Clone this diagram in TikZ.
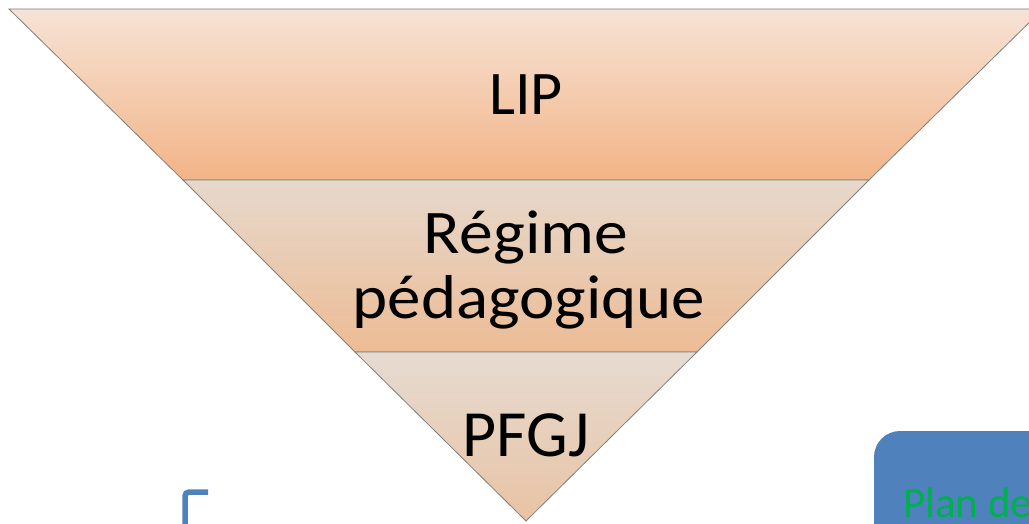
\documentclass[tikz,border=0pt]{standalone}
\usepackage{fontspec}
\setmainfont{Carlito}
\definecolor{bandA1}{HTML}{F6E3D6}
\definecolor{bandA2}{HTML}{F2B487}
\definecolor{bandB1}{HTML}{E6D8CC}
\definecolor{bandB2}{HTML}{EDBC95}
\definecolor{bandC1}{HTML}{E6DBD1}
\definecolor{bandC2}{HTML}{E8C3A4}
\definecolor{edgegray}{HTML}{7F7F7F}
\definecolor{boxblue}{HTML}{4F81BD}
\definecolor{txtgreen}{HTML}{00B050}
\tikzset{
  band/.style={draw=edgegray, line width=0.8pt, line join=miter},
  bandlabel/.style={font=\fontsize{62}{73}\selectfont, text=black, align=center, anchor=base, inner sep=0pt},
}
\begin{document}
\begin{tikzpicture}[x=1pt,y=-1pt]
\useasboundingbox (0,0) rectangle (1029,524);
\begin{scope}
\clip (0,0) rectangle (1029,524);
% bands of the inverted triangle
\path[band, top color=bandA1, bottom color=bandA2] (9,9) -- (1043,9) -- (869,180) -- (183,180) -- cycle;
\path[band, top color=bandB1, bottom color=bandB2] (183,180) -- (869,180) -- (697,352) -- (355,352) -- cycle;
\path[band, top color=bandC1, bottom color=bandC2] (355,352) -- (697,352) -- (526,521) -- cycle;
% blue box at lower right
\path[fill=boxblue, rounded corners=26pt] (874,431) -- (1060,431) -- (1060,560) -- (874,560) -- cycle;
\node[anchor=base west, inner sep=0pt, text=txtgreen, font=\fontsize{43}{50}\selectfont] (plan) at (903,517) {Plan de};
% blue bracket corner
\draw[boxblue, line width=5.5pt, rounded corners=4pt] (208,492) -- (185,492) -- (185,540);
\end{scope}
\node[bandlabel] (lip) at (526,115) {LIP};
\node[bandlabel, xscale=1.09] (regime) at (526,253) {Régime};
\node[bandlabel, xscale=1.08] (peda) at (529,318) {pédagogique};
\node[bandlabel, font=\fontsize{66}{76}\selectfont] (pfgj) at (526,456) {PFGJ};
\end{tikzpicture}
\end{document}
